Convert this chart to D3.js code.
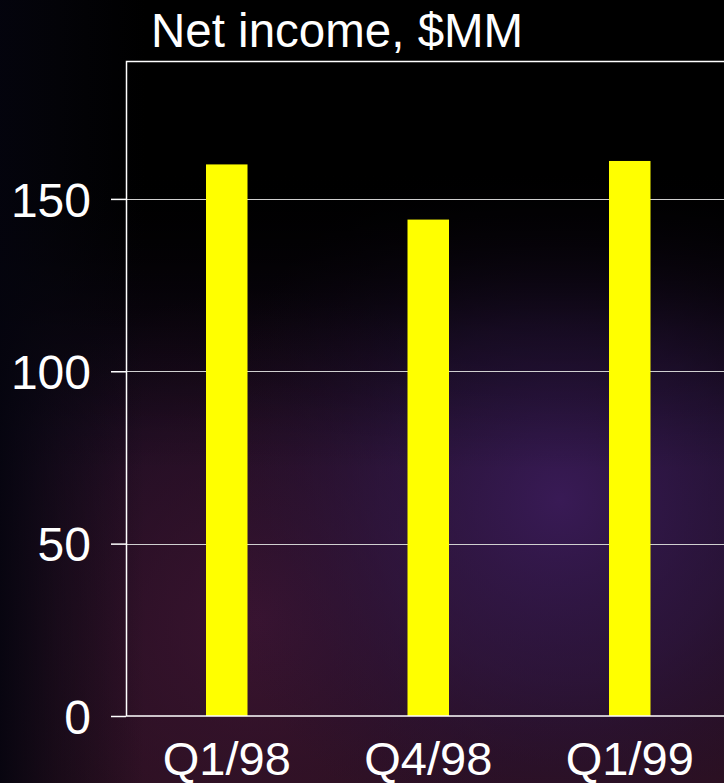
<!DOCTYPE html>
<html>
<head>
<meta charset="utf-8">
<script src="https://cdn.jsdelivr.net/npm/d3@7"></script>
<style>
  html, body { margin: 0; padding: 0; background: #000; }
  svg { display: block; }
  text { font-family: "Liberation Sans", Arial, Helvetica, sans-serif; fill: #fff; }
</style>
</head>
<body>
<script>
// Quarterly net income, $MM
const categories = ["Q1/98", "Q4/98", "Q1/99"];
const netIncome = [160, 144, 161];
const yTicks = [0, 50, 100, 150];
const titleText = "Net income, $MM";

const W = 724, H = 783;
const margin = { top: 61, left: 126 };
const plotW = 604.5, plotH = 655;

const svg = d3.select("body").append("svg")
  .attr("width", W).attr("height", H);

// Slide-style backdrop: black top fading into purple / maroon glow
const defs = svg.append("defs");
const base = defs.append("linearGradient").attr("id", "bgBase")
  .attr("x1", 0).attr("y1", 0).attr("x2", 0).attr("y2", 1);
[[0, "#000000"], [0.25, "#020104"], [0.55, "#1a0c22"], [1, "#2c1020"]]
  .forEach(([o, c]) => base.append("stop").attr("offset", o).attr("stop-color", c));

const glowPurple = defs.append("radialGradient").attr("id", "glowPurple")
  .attr("gradientUnits", "userSpaceOnUse")
  .attr("cx", 560).attr("cy", 500).attr("r", 360);
[[0, "#3a1b58", 0.95], [0.5, "#30184a", 0.55], [1, "#200f30", 0]]
  .forEach(([o, c, a]) => glowPurple.append("stop").attr("offset", o)
    .attr("stop-color", c).attr("stop-opacity", a));

const glowMaroon = defs.append("radialGradient").attr("id", "glowMaroon")
  .attr("gradientUnits", "userSpaceOnUse")
  .attr("cx", 260).attr("cy", 620).attr("r", 330);
[[0, "#3e1533", 0.85], [0.6, "#33122a", 0.45], [1, "#2a0f22", 0]]
  .forEach(([o, c, a]) => glowMaroon.append("stop").attr("offset", o)
    .attr("stop-color", c).attr("stop-opacity", a));

const topShade = defs.append("linearGradient").attr("id", "topShade")
  .attr("x1", 0).attr("y1", 0).attr("x2", 0).attr("y2", 1);
[[0, "#000", 1], [0.22, "#000", 1], [0.42, "#000", 0.35], [0.6, "#000", 0]]
  .forEach(([o, c, a]) => topShade.append("stop").attr("offset", o)
    .attr("stop-color", c).attr("stop-opacity", a));

const leftShade = defs.append("linearGradient").attr("id", "leftShade")
  .attr("x1", 0).attr("y1", 0).attr("x2", 1).attr("y2", 0);
[[0, "#04040e", 0.9], [0.08, "#06060f", 0.5], [0.2, "#06060f", 0]]
  .forEach(([o, c, a]) => leftShade.append("stop").attr("offset", o)
    .attr("stop-color", c).attr("stop-opacity", a));

svg.append("rect").attr("width", W).attr("height", H).attr("fill", "url(#bgBase)");
svg.append("rect").attr("width", W).attr("height", H).attr("fill", "url(#glowMaroon)");
svg.append("rect").attr("width", W).attr("height", H).attr("fill", "url(#glowPurple)");
svg.append("rect").attr("width", W).attr("height", H).attr("fill", "url(#topShade)");
svg.append("rect").attr("width", W).attr("height", H).attr("fill", "url(#leftShade)");

// Scales
const x = d3.scaleBand().domain(categories)
  .range([margin.left, margin.left + plotW])
  .paddingInner(0.794).paddingOuter(0.397);
const y = d3.scaleLinear().domain([0, 190])
  .range([margin.top + plotH, margin.top]);

// Gridlines
svg.append("g").selectAll("line")
  .data(yTicks.filter(d => d > 0))
  .join("line")
  .attr("x1", margin.left).attr("x2", margin.left + plotW)
  .attr("y1", d => Math.round(y(d)) + 0.5).attr("y2", d => Math.round(y(d)) + 0.5)
  .attr("stroke", "#d0d0d0").attr("stroke-width", 1);

// Bars
svg.append("g").selectAll("rect")
  .data(netIncome)
  .join("rect")
  .attr("x", (d, i) => x(categories[i]))
  .attr("width", x.bandwidth())
  .attr("y", d => y(d))
  .attr("height", d => y(0) - y(d))
  .attr("fill", "#ffff00");

// Plot frame (top and left edges visible; right edge runs past the view)
svg.append("rect")
  .attr("x", margin.left + 0.5).attr("y", margin.top + 0.5)
  .attr("width", plotW).attr("height", plotH - 0.5)
  .attr("fill", "none").attr("stroke", "#ffffff").attr("stroke-width", 1.5);

// Y axis
const yAxis = svg.append("g")
  .attr("transform", `translate(${margin.left},0)`)
  .call(d3.axisLeft(y).tickValues(yTicks).tickSize(15).tickPadding(20));
yAxis.select(".domain").remove();
yAxis.selectAll(".tick line").attr("stroke", "#ffffff").attr("stroke-width", 1.5);
yAxis.selectAll(".tick text")
  .attr("fill", "#ffffff").attr("dy", "0.36em")
  .style("font-size", "48px")
  .style("font-family", '"Liberation Sans", Arial, sans-serif');

// X axis
const xAxis = svg.append("g")
  .attr("transform", `translate(0,${y(0)})`)
  .call(d3.axisBottom(x).tickSize(0).tickPadding(26));
xAxis.select(".domain").remove();
xAxis.selectAll(".tick text")
  .attr("fill", "#ffffff")
  .style("font-size", "47px")
  .style("font-family", '"Liberation Sans", Arial, sans-serif');

// Title
svg.append("text")
  .attr("x", 151).attr("y", 47)
  .style("font-size", "47.5px")
  .text(titleText);
</script>
</body>
</html>
